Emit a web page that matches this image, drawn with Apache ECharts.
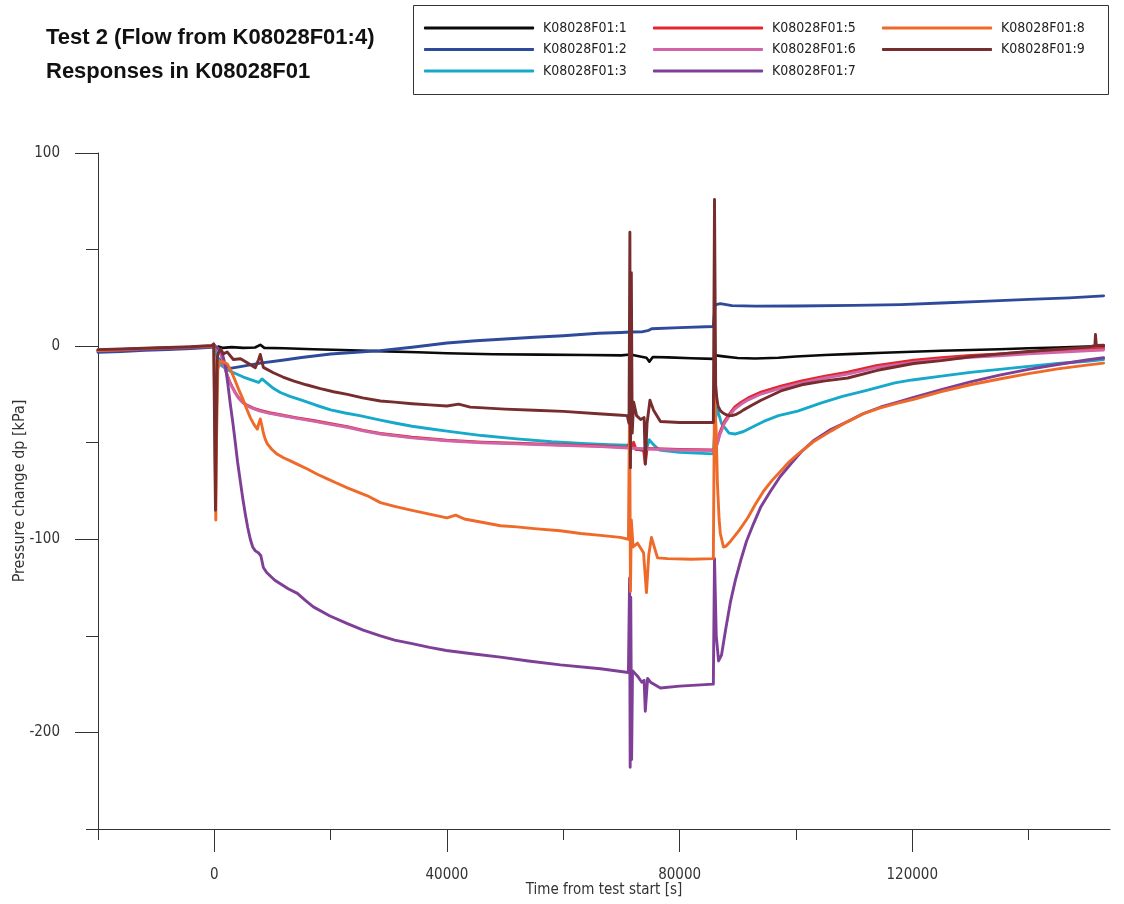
<!DOCTYPE html>
<html>
<head>
<meta charset="utf-8">
<title>Test 2 responses in K08028F01</title>
<script src="https://cdn.jsdelivr.net/npm/echarts@6.0.0/dist/echarts.min.js"></script>
<style>
  html, body { margin: 0; padding: 0; background: #ffffff; }
  #chart { width: 1124px; height: 904px; }
</style>
</head>
<body>
<div id="chart"></div>
<script>
// Pressure responses [kPa] against time from test start [s]; each array holds [t, dp] pairs.
const seriesNames = ['K08028F01:1', 'K08028F01:2', 'K08028F01:3', 'K08028F01:5',
                     'K08028F01:6', 'K08028F01:7', 'K08028F01:8', 'K08028F01:9'];

const k1 = [[-20000,-2.4],[-16000,-2.0],[-12000,-1.5],[-8000,-1.2],[-4000,-0.7],[-500,-0.1],[0,0.5],[300,-1.2],[700,-0.2],[1500,-0.9],[3000,-0.5],[5000,-0.9],[7000,-0.7],[7900,0.7],[8600,-0.9],[12000,-1.1],[17000,-1.6],[22000,-2.0],[28000,-2.6],[35000,-3.2],[40000,-3.7],[44000,-3.9],[48000,-4.2],[56000,-4.4],[64000,-4.6],[70000,-4.8],[71500,-4.3],[73000,-5.2],[74300,-6.0],[74800,-8.0],[75400,-5.6],[78000,-5.8],[82000,-6.3],[85800,-6.6],[86200,-4.8],[87500,-5.3],[90000,-6.1],[93000,-6.4],[97000,-6.0],[100000,-5.4],[105000,-4.6],[110000,-4.0],[115000,-3.4],[120000,-2.9],[125000,-2.4],[130000,-2.0],[135000,-1.6],[140000,-1.1],[145000,-0.7],[150000,-0.2],[152900,0.1]];

const k2 = [[-20000,-3.2],[-16000,-2.8],[-12000,-2.2],[-8000,-1.7],[-4000,-1.2],[-500,-0.6],[0,-0.2],[600,-6.0],[1500,-9.0],[2700,-11.5],[4500,-10.6],[7900,-8.8],[12000,-7.2],[15000,-5.9],[20000,-4.1],[25000,-3.0],[28500,-2.3],[34000,-0.6],[40000,1.6],[45000,2.8],[50000,3.7],[55000,4.6],[60000,5.4],[66000,6.7],[70000,7.1],[71500,7.3],[73500,7.4],[74700,8.2],[75200,9.0],[80000,9.6],[85800,10.2],[86100,21.4],[87000,22.0],[89000,21.0],[93000,20.7],[100000,20.8],[110000,21.1],[118000,21.5],[125000,22.3],[132000,23.2],[140000,24.2],[147000,25.0],[152900,26.0]];

const k3 = [[-20000,-2.0],[-16000,-1.7],[-12000,-1.3],[-8000,-1.0],[-4000,-0.6],[-500,-0.2],[0,0.2],[400,-5.0],[1200,-10.0],[2750,-13.0],[5000,-16.0],[7600,-18.8],[8200,-17.0],[8800,-18.5],[10000,-21.5],[11350,-24.0],[13000,-26.0],[15000,-28.0],[17500,-30.6],[20000,-33.0],[22500,-34.6],[25000,-36.0],[28560,-38.3],[31000,-39.8],[34000,-41.5],[37000,-42.8],[40000,-44.0],[46000,-46.3],[52000,-48.0],[58000,-49.5],[64000,-50.5],[68000,-51.0],[71000,-51.3],[71500,-52.0],[72300,-53.0],[73500,-54.0],[74200,-54.0],[74800,-48.5],[75500,-51.0],[76500,-53.8],[80000,-55.0],[85800,-55.8],[86100,-40.0],[86400,-32.0],[87200,-40.0],[88500,-45.0],[89500,-45.5],[91000,-44.2],[92700,-41.6],[94450,-39.0],[97000,-36.0],[100300,-33.6],[104250,-29.5],[108000,-26.0],[112000,-23.0],[117000,-19.0],[120000,-17.5],[125000,-15.5],[130000,-13.6],[135000,-12.0],[140000,-10.5],[145000,-9.0],[150000,-7.8],[152900,-7.0]];

const k5 = [[-20000,-2.1],[-16000,-1.7],[-12000,-1.2],[-8000,-0.9],[-4000,-0.5],[-500,0.0],[0,0.4],[500,-1.3],[1030,-2.8],[1600,-8.7],[2240,-15.2],[2650,-18.5],[3100,-21.2],[3600,-24.0],[4130,-26.5],[4900,-29.0],[5680,-30.7],[6800,-32.2],[7900,-33.3],[9500,-34.5],[11350,-35.5],[14000,-37.0],[17000,-38.5],[20000,-40.2],[22880,-41.7],[25600,-43.6],[28560,-45.2],[34000,-47.2],[40000,-48.7],[46000,-49.7],[52000,-50.3],[58000,-50.9],[66400,-51.7],[71000,-52.4],[71500,-49.5],[71700,-53.0],[72100,-49.8],[72500,-53.5],[73800,-53.5],[74100,-61.0],[74400,-53.0],[76000,-53.1],[80000,-53.5],[85800,-53.7],[86200,-52.5],[86600,-48.5],[86900,-45.0],[87300,-42.0],[87700,-39.0],[88500,-35.4],[89500,-31.5],[90600,-29.0],[91800,-26.8],[94000,-23.8],[97400,-20.7],[101000,-18.0],[105000,-15.5],[108900,-13.5],[114000,-10.0],[120250,-7.3],[125000,-6.0],[130000,-4.8],[135000,-4.0],[140000,-3.0],[145000,-2.2],[150000,-1.5],[152900,-1.0]];

const k6 = [[-20000,-2.2],[-16000,-1.8],[-12000,-1.3],[-8000,-1.0],[-4000,-0.6],[-500,-0.1],[0,0.3],[500,-1.5],[1030,-3.0],[1600,-9.0],[2240,-15.5],[2650,-18.8],[3100,-21.5],[3600,-24.3],[4130,-26.8],[4900,-29.3],[5680,-31.0],[6800,-32.5],[7900,-33.6],[9500,-34.8],[11350,-35.8],[14000,-37.3],[17000,-38.8],[20000,-40.5],[22880,-42.0],[25600,-43.9],[28560,-45.5],[34000,-47.5],[40000,-49.0],[46000,-50.0],[52000,-50.6],[58000,-51.2],[66400,-52.0],[71200,-52.7],[73000,-53.0],[76000,-53.4],[80000,-53.8],[85800,-54.0],[86200,-53.0],[86600,-49.5],[86900,-46.0],[87300,-43.0],[87700,-40.0],[88500,-36.4],[89500,-32.5],[90600,-30.0],[91800,-27.8],[94000,-24.8],[97400,-21.7],[101000,-19.0],[105000,-16.5],[108900,-14.5],[114000,-11.0],[120250,-8.3],[125000,-7.0],[130000,-5.8],[135000,-5.0],[140000,-4.0],[145000,-3.2],[150000,-2.4],[152900,-2.0]];

const k7 = [[-20000,-2.6],[-16000,-2.2],[-12000,-1.7],[-8000,-1.3],[-4000,-0.8],[-500,-0.3],[0,0.2],[600,-1.0],[1300,-3.0],[1890,-10.0],[2300,-19.0],[2750,-30.0],[3200,-40.0],[3610,-50.0],[4000,-60.0],[4470,-70.0],[4900,-79.0],[5330,-87.0],[5750,-94.0],[6190,-100.0],[6600,-104.0],[7050,-106.0],[7570,-107.0],[8000,-108.5],[8430,-114.6],[9000,-117.2],[9630,-119.0],[10400,-121.2],[11350,-123.0],[12700,-125.6],[14280,-128.0],[15600,-131.5],[17030,-135.0],[19800,-139.6],[22880,-143.7],[25600,-147.0],[28560,-150.0],[31000,-152.2],[34000,-154.0],[37000,-156.0],[39900,-157.6],[45000,-159.5],[49200,-161.0],[54000,-163.0],[59500,-165.0],[66400,-167.0],[71200,-169.0],[71400,-120.0],[71500,-218.0],[71600,-130.0],[71750,-214.0],[71900,-168.0],[72800,-171.0],[73500,-174.0],[73900,-173.0],[74100,-189.0],[74500,-172.0],[75000,-174.0],[76700,-177.0],[80000,-176.0],[85800,-175.0],[86000,-110.0],[86300,-150.0],[86700,-163.0],[87200,-160.0],[87900,-147.0],[88770,-132.0],[89600,-121.0],[90500,-111.0],[91500,-101.0],[92700,-92.0],[94000,-83.0],[95650,-75.0],[97300,-67.5],[99100,-61.0],[101000,-54.5],[103000,-49.0],[105800,-43.5],[108900,-39.0],[111500,-35.0],[114600,-31.5],[117500,-29.0],[120250,-26.5],[125000,-22.5],[130000,-18.5],[135000,-15.0],[140000,-12.0],[145000,-9.5],[150000,-7.2],[152900,-6.0]];

const k8 = [[-20000,-2.3],[-16000,-1.9],[-12000,-1.3],[-8000,-0.9],[-4000,-0.5],[-500,0.0],[-100,0.4],[100,-40.0],[250,-90.0],[400,-45.0],[600,-12.0],[1030,-7.8],[1600,-8.2],[2240,-9.3],[2900,-13.0],[3610,-18.0],[4200,-22.5],[4820,-26.8],[5500,-32.0],[6190,-37.0],[6800,-40.5],[7400,-43.0],[7650,-40.0],[7910,-37.7],[8200,-41.5],[8430,-45.0],[8800,-48.5],[9120,-50.6],[9900,-53.5],[10840,-56.0],[11900,-57.8],[13075,-59.4],[14500,-61.5],[16000,-63.6],[17700,-66.3],[19440,-68.7],[21100,-71.0],[22880,-73.4],[26320,-77.5],[28560,-81.0],[31000,-83.0],[34000,-85.0],[37000,-87.0],[40000,-88.9],[41500,-87.5],[43000,-89.5],[46000,-91.2],[49200,-93.0],[52000,-93.6],[55000,-94.5],[59500,-95.6],[63000,-97.0],[66400,-98.0],[69800,-99.0],[71200,-100.0],[71400,-30.0],[71550,-127.0],[71700,-90.0],[72000,-104.0],[72770,-102.0],[73800,-107.0],[74300,-127.6],[74700,-108.0],[75160,-99.0],[76200,-109.6],[77930,-110.0],[82000,-110.3],[85800,-110.0],[86000,-25.0],[86300,-45.0],[86500,-71.0],[86800,-90.0],[87000,-97.0],[87540,-104.0],[88000,-103.5],[88770,-101.0],[90200,-95.5],[91700,-89.0],[93000,-82.0],[94450,-75.0],[95900,-69.5],[97400,-64.6],[98800,-60.0],[100300,-56.0],[103000,-49.5],[106000,-44.0],[108800,-39.2],[111650,-35.0],[114500,-32.0],[117500,-29.5],[120250,-27.5],[125000,-23.5],[130000,-20.0],[135000,-17.0],[140000,-14.2],[145000,-11.8],[150000,-9.8],[152900,-8.8]];

const k9 = [[-20000,-1.8],[-16000,-1.5],[-12000,-1.1],[-8000,-0.7],[-4000,-0.3],[-500,0.3],[-100,1.2],[100,-60.0],[200,-85.0],[350,-40.0],[500,-6.0],[690,-3.6],[1100,-1.5],[1550,-4.0],[2200,-3.0],[3270,-6.9],[4500,-6.5],[5680,-8.6],[7050,-11.2],[7600,-7.0],[7900,-4.3],[8430,-11.0],[10150,-13.8],[11800,-16.0],[13590,-18.0],[15800,-20.0],[18240,-22.0],[20500,-23.6],[22880,-25.0],[25500,-26.8],[28560,-28.4],[31000,-29.0],[34000,-29.8],[37000,-30.4],[40000,-31.0],[42000,-30.0],[44000,-31.6],[50000,-32.6],[55000,-33.2],[60000,-33.8],[66000,-35.0],[70000,-35.8],[71000,-36.0],[71300,-40.0],[71450,59.0],[71550,-63.0],[71700,38.0],[71850,-45.0],[72100,-29.0],[72600,-36.0],[73300,-38.0],[73900,-37.0],[74100,-61.0],[74400,-40.0],[74900,-28.0],[75500,-33.0],[76700,-39.0],[80000,-39.5],[85800,-39.5],[86000,76.0],[86200,-20.0],[86400,-27.0],[86600,-31.0],[87000,-33.4],[87400,-34.5],[88000,-35.5],[88500,-36.0],[89000,-36.0],[89600,-35.5],[90300,-34.4],[91000,-33.0],[92500,-30.5],[94000,-28.0],[97400,-23.2],[101000,-20.0],[105000,-18.0],[108900,-16.5],[114000,-12.5],[120250,-9.0],[125000,-7.5],[130000,-5.5],[135200,-4.0],[140000,-2.8],[145000,-1.6],[150000,-0.5],[151400,0.2],[151500,6.0],[151650,0.3],[152900,0.5]];

const seriesData = [k1, k2, k3, k5, k6, k7, k8, k9];
const seriesColors = ['#0a0a0a', '#2e4a9b', '#17a9c9', '#e2272f', '#d064a7', '#7f3f97', '#ef6a29', '#772d2e'];

// Axis ticks: labelled major ticks and short minor ticks in between
const xMajorTicks = [0, 40000, 80000, 120000];
const xMinorTicks = [-20000, 20000, 60000, 100000, 140000];
const yMajorTicks = [100, 0, -100, -200];
const yMinorTicks = [50, -50, -150, -250];

const X_MIN = -20000, X_MAX = 154000, Y_MIN = -250, Y_MAX = 100;

const labelFont = "'Liberation Sans Narrow', 'Arial Narrow', 'DejaVu Sans Condensed', sans-serif";
const axisColor = '#333333';

const chart = echarts.init(document.getElementById('chart'), null, { renderer: 'canvas' });

function legendBlock(names, left) {
  return {
    orient: 'vertical',
    left: left,
    top: 21,
    itemWidth: 110,
    itemHeight: 3,
    itemGap: 7.5,
    icon: 'roundRect',
    selectedMode: false,
    padding: 0,
    data: names,
    textStyle: { fontFamily: labelFont, fontSize: 14, color: '#222', padding: [0, 0, 0, 4] }
  };
}

const plainNumber = (v) => String(v);

const option = {
  animation: false,
  backgroundColor: '#ffffff',
  title: {
    text: 'Test 2 (Flow from K08028F01:4)\nResponses in K08028F01',
    left: 46,
    top: 21,
    padding: 0,
    textStyle: { fontFamily: "'Liberation Sans', Arial, sans-serif", fontSize: 22, fontWeight: 'bold', color: '#111', lineHeight: 34 }
  },
  legend: [
    legendBlock(seriesNames.slice(0, 3), 424),
    legendBlock(seriesNames.slice(3, 6), 653),
    legendBlock(seriesNames.slice(6, 8), 882)
  ],
  graphic: [{
    type: 'rect',
    shape: { x: 413.5, y: 5.5, width: 695, height: 89 },
    style: { fill: 'none', stroke: '#333', lineWidth: 1 },
    silent: true
  }],
  grid: { left: 98, right: 14, top: 153, bottom: 75, containLabel: false, outerBoundsMode: 'none' },
  xAxis: [{
    type: 'value', min: X_MIN, max: X_MAX, position: 'bottom',
    axisLine: { show: true, onZero: false, lineStyle: { color: axisColor, width: 1 } },
    axisTick: { show: true, length: 23, customValues: xMajorTicks, lineStyle: { color: axisColor } },
    axisLabel: { show: true, customValues: xMajorTicks, formatter: plainNumber, margin: 39, fontFamily: labelFont, fontSize: 15, color: '#333' },
    splitLine: { show: false },
    name: 'Time from test start [s]', nameLocation: 'middle', nameGap: 54, nameMoveOverlap: false,
    nameTextStyle: { fontFamily: labelFont, fontSize: 15, color: '#333' }
  }, {
    type: 'value', min: X_MIN, max: X_MAX, position: 'bottom',
    axisLine: { show: false, onZero: false },
    axisTick: { show: true, length: 11, customValues: xMinorTicks, lineStyle: { color: axisColor } },
    axisLabel: { show: false },
    splitLine: { show: false }
  }],
  yAxis: [{
    type: 'value', min: Y_MIN, max: Y_MAX, position: 'left',
    axisLine: { show: true, onZero: false, lineStyle: { color: axisColor, width: 1 } },
    axisTick: { show: true, length: 23, customValues: yMajorTicks, lineStyle: { color: axisColor } },
    axisLabel: { show: true, customValues: yMajorTicks, formatter: plainNumber, margin: 38, fontFamily: labelFont, fontSize: 15, color: '#333' },
    splitLine: { show: false },
    name: 'Pressure change dp [kPa]', nameLocation: 'middle', nameRotate: 90, nameGap: 70, nameMoveOverlap: false,
    nameTextStyle: { fontFamily: labelFont, fontSize: 16, color: '#333' }
  }, {
    type: 'value', min: Y_MIN, max: Y_MAX, position: 'left',
    axisLine: { show: false, onZero: false },
    axisTick: { show: true, length: 12, customValues: yMinorTicks, lineStyle: { color: axisColor } },
    axisLabel: { show: false },
    splitLine: { show: false }
  }],
  series: seriesNames.map((name, i) => ({
    name: name,
    type: 'line',
    xAxisIndex: 0,
    yAxisIndex: 0,
    data: seriesData[i],
    showSymbol: false,
    symbol: 'none',
    color: seriesColors[i],
    lineStyle: { width: i === 0 ? 2.6 : 2.9, color: seriesColors[i], join: 'round', cap: 'round' },
    z: 2 + i
  }))
};

chart.setOption(option);
</script>
</body>
</html>
